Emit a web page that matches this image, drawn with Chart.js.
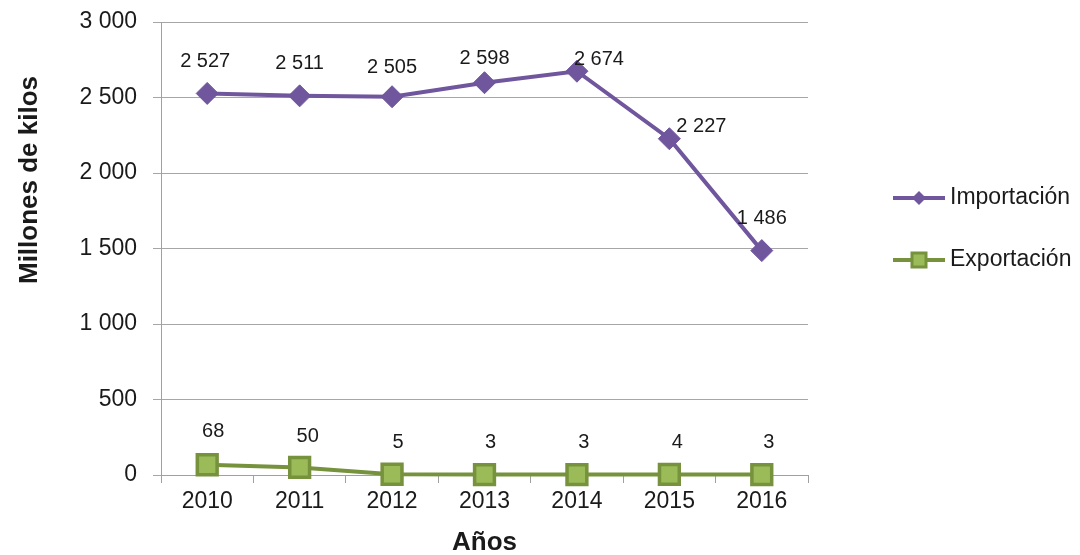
<!DOCTYPE html>
<html>
<head>
<meta charset="utf-8">
<script src="https://cdn.jsdelivr.net/npm/chart.js@4.4.1/dist/chart.umd.min.js"></script>
<style>
  html, body { margin: 0; padding: 0; background: #ffffff; }
  #wrap { width: 1080px; height: 555px; position: relative; }
</style>
</head>
<body>
<div id="wrap"><canvas id="c" width="1080" height="555"></canvas></div>
<script>
const categories = ['2010', '2011', '2012', '2013', '2014', '2015', '2016'];
const importacion = [2527, 2511, 2505, 2598, 2674, 2227, 1486];
const exportacion = [68, 50, 5, 3, 3, 4, 3];
const importLabels = ['2 527', '2 511', '2 505', '2 598', '2 674', '2 227', '1 486'];
const exportLabels = ['68', '50', '5', '3', '3', '4', '3'];
const yTickLabels = ['0', '500', '1 000', '1 500', '2 000', '2 500', '3 000'];
const seriesNames = ['Importación', 'Exportación'];
const yTitle = 'Millones de kilos';
const xTitle = 'Años';

const FONT = '"Liberation Sans", Arial, sans-serif';
const TEXT = '#1a1a1a';
const PURPLE = '#6f569d';
const GREEN_D = '#76923c';
const GREEN_L = '#9bbb59';

const labelPlugin = {
  id: 'pointLabels',
  afterDatasetsDraw(chart, args, opts) {
    const ctx = chart.ctx;
    ctx.save();
    ctx.font = '20px ' + FONT;
    ctx.fillStyle = TEXT;
    ctx.textAlign = 'center';
    ctx.textBaseline = 'middle';
    opts.sets.forEach((s, di) => {
      const meta = chart.getDatasetMeta(di);
      meta.data.forEach((pt, i) => {
        const off = s.offsets[i];
        ctx.fillText(s.labels[i], pt.x + off[0], pt.y + off[1]);
      });
    });
    ctx.restore();
  }
};

const extrasPlugin = {
  id: 'extras',
  afterDraw(chart) {
    const ctx = chart.ctx;
    const ca = chart.chartArea;
    ctx.save();
    ctx.fillStyle = TEXT;
    ctx.font = 'bold 26px ' + FONT;
    ctx.textAlign = 'center';
    ctx.textBaseline = 'middle';
    ctx.fillText(xTitle, (ca.left + ca.right) / 2, 543);
    ctx.save();
    ctx.translate(30, 180);
    ctx.rotate(-Math.PI / 2);
    ctx.fillText(yTitle, 0, 0);
    ctx.restore();
    const items = [
      { y: 198, color: PURPLE, fill: PURPLE, shape: 'diamond' },
      { y: 260, color: GREEN_D, fill: GREEN_L, shape: 'square' }
    ];
    ctx.font = '23px ' + FONT;
    ctx.textAlign = 'left';
    items.forEach((it, i) => {
      ctx.strokeStyle = it.color;
      ctx.lineWidth = 4;
      ctx.beginPath();
      ctx.moveTo(893, it.y);
      ctx.lineTo(945, it.y);
      ctx.stroke();
      const cx = 919;
      if (it.shape === 'diamond') {
        ctx.fillStyle = it.fill;
        ctx.beginPath();
        ctx.moveTo(cx, it.y - 7);
        ctx.lineTo(cx + 7, it.y);
        ctx.lineTo(cx, it.y + 7);
        ctx.lineTo(cx - 7, it.y);
        ctx.closePath();
        ctx.fill();
      } else {
        ctx.fillStyle = it.fill;
        ctx.lineWidth = 3;
        ctx.fillRect(cx - 7, it.y - 7, 14, 14);
        ctx.strokeRect(cx - 7, it.y - 7, 14, 14);
      }
      ctx.fillStyle = TEXT;
      ctx.fillText(seriesNames[i], 950, it.y);
    });
    ctx.restore();
  }
};

const chart = new Chart(document.getElementById('c'), {
  type: 'line',
  data: {
    labels: categories,
    datasets: [
      {
        label: seriesNames[0],
        data: importacion,
        borderColor: PURPLE,
        backgroundColor: PURPLE,
        borderWidth: 4,
        pointStyle: 'rectRot',
        pointRadius: 11,
        pointBorderWidth: 1,
        pointBackgroundColor: PURPLE,
        pointBorderColor: PURPLE,
        tension: 0,
        clip: false
      },
      {
        label: seriesNames[1],
        data: exportacion,
        borderColor: GREEN_D,
        backgroundColor: GREEN_L,
        borderWidth: 4,
        pointStyle: 'rect',
        pointRadius: 14,
        pointBorderWidth: 3.5,
        pointBackgroundColor: GREEN_L,
        pointBorderColor: GREEN_D,
        tension: 0,
        clip: false
      }
    ]
  },
  options: {
    responsive: false,
    animation: false,
    layout: { padding: { left: 0, top: 22, right: 272, bottom: 0 } },
    plugins: {
      legend: { display: false },
      tooltip: { enabled: false },
      pointLabels: {
        sets: [
          { labels: importLabels, offsets: [[-2, -32], [0, -32], [0, -29], [0, -24], [22, -12], [32, -12], [0, -32]] },
          { labels: exportLabels, offsets: [[6, -33], [8, -31], [6, -32], [6, -32], [7, -32], [8, -32], [7, -32]] }
        ]
      }
    },
    scales: {
      x: {
        type: 'category',
        offset: true,
        grid: { offset: true, drawOnChartArea: false, drawTicks: true, tickLength: 8, color: '#a0a0a0' },
        border: { display: true, color: '#a0a0a0' },
        ticks: { color: TEXT, font: { family: FONT, size: 23 }, padding: 5, maxRotation: 0 },
        afterFit(scale) { scale.height = 80; scale.paddingLeft = 0; scale.paddingRight = 0; }
      },
      y: {
        min: 0,
        max: 3000,
        grid: { color: '#a6a6a6', tickLength: 8, drawTicks: true },
        border: { display: true, color: '#a0a0a0' },
        ticks: {
          stepSize: 500,
          color: TEXT,
          font: { family: FONT, size: 23 },
          padding: 16,
          callback: (v) => yTickLabels[Math.round(v / 500)]
        },
        afterFit(scale) { scale.width = 161; scale.paddingTop = 0; scale.paddingBottom = 0; }
      }
    }
  },
  plugins: [labelPlugin, extrasPlugin]
});
</script>
</body>
</html>
